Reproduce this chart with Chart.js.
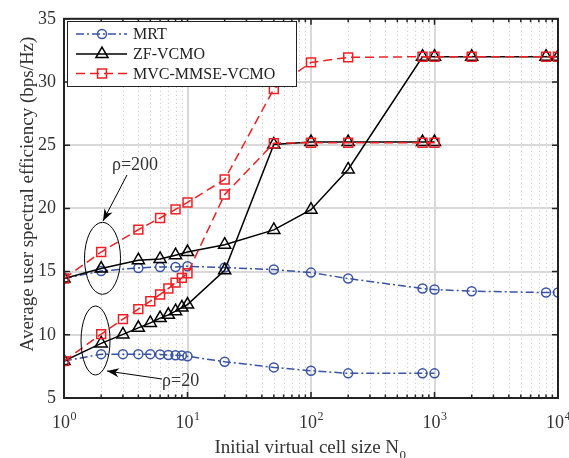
<!DOCTYPE html>
<html>
<head>
<meta charset="utf-8">
<script src="https://cdn.jsdelivr.net/npm/chart.js@4"></script>
<style>
  html, body { margin: 0; padding: 0; background: #fff; }
</style>
</head>
<body>
<canvas id="myChart" width="569" height="458"></canvas>
<script>
// initial virtual cell sizes N0 for each group
const nRho200 = [1, 2, 4, 6, 8, 10, 20, 50, 100, 200, 800, 1000, 2000, 8000, 10000];
const nRho20 = [1, 2, 3, 4, 5, 6, 7, 8, 9, 10, 20, 50, 100, 200, 800, 1000];

const mrt200 = [14.45, 15.05, 15.29, 15.37, 15.37, 15.42, 15.32, 15.16, 14.92, 14.45, 13.66, 13.58, 13.45, 13.34, 13.34];
const mrt20 = [7.92, 8.47, 8.47, 8.47, 8.47, 8.45, 8.4, 8.38, 8.36, 8.3, 7.87, 7.42, 7.16, 6.95, 6.95, 6.95];
const zf200 = [14.45, 15.24, 15.9, 16.0, 16.3, 16.55, 17.13, 18.3, 19.9, 23.08, 32, 32, 32, 32, 32];
const zf20 = [7.92, 9.32, 10.03, 10.55, 10.94, 11.32, 11.58, 11.87, 12.16, 12.39, 15.1, 25.05, 25.25, 25.25, 25.25, 25.25];
const mvc200 = [14.45, 16.55, 18.32, 19.24, 19.92, 20.47, 22.29, 29.45, 31.55, 31.95, 32, 32, 32, 32, 32];
const mvc20 = [7.92, 10.05, 11.24, 12.03, 12.66, 13.19, 13.66, 14.13, 14.5, 14.87, 21.1, 25.16, 25.2, 25.2, 25.2, 25.2];

const xDecades = [1, 10, 100, 1000, 10000];
const yTicks = [5, 10, 15, 20, 25, 30, 35];

const FONT = '"Liberation Serif", "Times New Roman", serif';
const BLUE = '#3953a6';
const RED = '#ee2024';
const BLACK = '#000000';

const toXY = (xs, ys) => xs.map((x, i) => ({ x: x, y: ys[i] }));

const styles = {
  mrt: { color: BLUE, dash: [8, 3, 2, 3], pointStyle: 'circle', radius: 4.5 },
  zf: { color: BLACK, dash: [], pointStyle: 'triangle', radius: 7 },
  mvc: { color: RED, dash: [9, 5], pointStyle: 'rect', radius: 6.3 }
};

function makeSet(label, xs, ys, st) {
  return {
    label: label,
    data: toXY(xs, ys),
    borderColor: st.color,
    borderWidth: 1.5,
    borderDash: st.dash,
    pointStyle: st.pointStyle,
    pointRadius: st.radius,
    pointBorderColor: st.color,
    pointBackgroundColor: 'rgba(0,0,0,0)',
    pointBorderWidth: 1.5,
    fill: false,
    tension: 0
  };
}

// draw order: red below black below blue like the figure
const datasets = [
  makeSet('MVC-MMSE-VCMO', nRho200, mvc200, styles.mvc),
  makeSet('MVC-MMSE-VCMO', nRho20, mvc20, styles.mvc),
  makeSet('ZF-VCMO', nRho200, zf200, styles.zf),
  makeSet('ZF-VCMO', nRho20, zf20, styles.zf),
  makeSet('MRT', nRho200, mrt200, styles.mrt),
  makeSet('MRT', nRho20, mrt20, styles.mrt)
];

const legendItems = [
  { text: 'MRT', st: styles.mrt },
  { text: 'ZF-VCMO', st: styles.zf },
  { text: 'MVC-MMSE-VCMO', st: styles.mvc }
];

function marker(ctx, st, cx, cy) {
  const r = st.radius;
  ctx.beginPath();
  if (st.pointStyle === 'circle') {
    ctx.arc(cx, cy, r, 0, Math.PI * 2);
  } else if (st.pointStyle === 'triangle') {
    ctx.moveTo(cx, cy - r);
    ctx.lineTo(cx + r * Math.sin(Math.PI / 3), cy + r * 0.5);
    ctx.lineTo(cx - r * Math.sin(Math.PI / 3), cy + r * 0.5);
    ctx.closePath();
  } else {
    const s = r * Math.SQRT1_2;
    ctx.rect(cx - s, cy - s, 2 * s, 2 * s);
  }
  ctx.stroke();
}

const gridPlugin = {
  id: 'matlabGrid',
  beforeDatasetsDraw(chart) {
    const { ctx, chartArea: a, scales: { x, y } } = chart;
    ctx.save();
    // minor x grid (dotted)
    ctx.strokeStyle = '#c4c4c4';
    ctx.lineWidth = 1;
    ctx.setLineDash([1, 3]);
    for (let d = 1; d < 10000; d *= 10) {
      for (let m = 2; m <= 9; m++) {
        const px = Math.round(x.getPixelForValue(d * m)) + 0.5;
        ctx.beginPath(); ctx.moveTo(px, a.top); ctx.lineTo(px, a.bottom); ctx.stroke();
      }
    }
    // major grid (solid)
    ctx.setLineDash([]);
    ctx.strokeStyle = '#d9d9d9';
    ctx.lineWidth = 2;
    xDecades.forEach(v => {
      const px = Math.round(x.getPixelForValue(v));
      ctx.beginPath(); ctx.moveTo(px, a.top); ctx.lineTo(px, a.bottom); ctx.stroke();
    });
    yTicks.forEach(v => {
      const py = Math.round(y.getPixelForValue(v));
      ctx.beginPath(); ctx.moveTo(a.left, py); ctx.lineTo(a.right, py); ctx.stroke();
    });
    ctx.restore();
  },
  afterDatasetsDraw(chart) {
    const { ctx, chartArea: a, scales: { x, y } } = chart;
    ctx.save();

    // tick marks inside the box
    ctx.strokeStyle = '#222';
    ctx.lineWidth = 1.5;
    for (let d = 1; d <= 10000; d *= 10) {
      for (let m = 1; m <= 9; m++) {
        const v = d * m;
        if (v > 10000) break;
        const len = m === 1 ? 6 : 3.5;
        const px = x.getPixelForValue(v);
        ctx.beginPath();
        ctx.moveTo(px, a.bottom); ctx.lineTo(px, a.bottom - len);
        ctx.moveTo(px, a.top); ctx.lineTo(px, a.top + len);
        ctx.stroke();
      }
    }
    yTicks.forEach(v => {
      const py = y.getPixelForValue(v);
      ctx.beginPath();
      ctx.moveTo(a.left, py); ctx.lineTo(a.left + 6, py);
      ctx.moveTo(a.right, py); ctx.lineTo(a.right - 6, py);
      ctx.stroke();
    });

    // box
    ctx.lineWidth = 2;
    ctx.strokeStyle = '#222';
    ctx.strokeRect(a.left, a.top, a.right - a.left, a.bottom - a.top);

    // x tick labels 10^n
    ctx.fillStyle = '#333';
    ctx.textBaseline = 'alphabetic';
    ctx.textAlign = 'left';
    xDecades.forEach((v, i) => {
      const px = x.getPixelForValue(v);
      ctx.font = '18px ' + FONT;
      const w1 = ctx.measureText('10').width;
      ctx.font = '12px ' + FONT;
      const w2 = ctx.measureText(String(i)).width;
      const left = px - (w1 + w2) / 2;
      ctx.font = '18px ' + FONT;
      ctx.fillText('10', left, 428);
      ctx.font = '12px ' + FONT;
      ctx.fillText(String(i), left + w1 + 0.5, 420);
    });

    // x title with subscript
    ctx.font = '19px ' + FONT;
    const t1 = 'Initial virtual cell size N';
    const tw = ctx.measureText(t1).width;
    ctx.font = '13px ' + FONT;
    const sw = ctx.measureText('0').width;
    const tl = 310 - (tw + sw) / 2;
    ctx.font = '19px ' + FONT;
    ctx.fillText(t1, tl, 453);
    ctx.font = '13px ' + FONT;
    ctx.fillText('0', tl + tw + 0.5, 459);

    // y title
    ctx.save();
    ctx.translate(28, 194);
    ctx.rotate(-Math.PI / 2);
    ctx.font = '19px ' + FONT;
    ctx.textAlign = 'center';
    ctx.textBaseline = 'middle';
    ctx.fillText('Average user spectral efficiency (bps/Hz)', 0, 0);
    ctx.restore();

    // legend
    const lx = 67, ly = 21, lw = 229, lh = 65;
    ctx.fillStyle = '#fff';
    ctx.fillRect(lx, ly, lw, lh);
    ctx.lineWidth = 1;
    ctx.strokeStyle = '#222';
    ctx.strokeRect(lx + 0.5, ly + 0.5, lw, lh);
    const rows = [34, 54, 73.5];
    legendItems.forEach((it, i) => {
      const yy = rows[i];
      ctx.save();
      ctx.strokeStyle = it.st.color;
      ctx.lineWidth = 1.5;
      ctx.setLineDash(it.st.dash);
      ctx.beginPath(); ctx.moveTo(76, yy); ctx.lineTo(127, yy); ctx.stroke();
      ctx.setLineDash([]);
      marker(ctx, it.st, 102, yy);
      ctx.restore();
      ctx.fillStyle = '#222';
      ctx.font = '16px ' + FONT;
      ctx.textAlign = 'left';
      ctx.textBaseline = 'middle';
      ctx.fillText(it.text, 133, yy + 1);
    });

    // annotations: ellipses, arrows, rho labels
    ctx.strokeStyle = '#000';
    ctx.fillStyle = '#000';
    ctx.lineWidth = 1;
    const e1x = x.getPixelForValue(2.05), e1y = y.getPixelForValue(16.05);
    const e2x = x.getPixelForValue(1.8), e2y = y.getPixelForValue(9.55);
    ctx.beginPath(); ctx.ellipse(e1x, e1y, 18, 36, 0, 0, Math.PI * 2); ctx.stroke();
    ctx.beginPath(); ctx.ellipse(e2x, e2y, 14.5, 34.5, 0, 0, Math.PI * 2); ctx.stroke();

    function arrow(x0, y0, x1, y1) {
      const ang = Math.atan2(y1 - y0, x1 - x0);
      const hl = 12, hw = 4.5;
      ctx.beginPath(); ctx.moveTo(x0, y0); ctx.lineTo(x1, y1); ctx.stroke();
      const bx = x1 - hl * Math.cos(ang), by = y1 - hl * Math.sin(ang);
      ctx.beginPath();
      ctx.moveTo(x1, y1);
      ctx.lineTo(bx + hw * Math.sin(ang), by - hw * Math.cos(ang));
      ctx.lineTo(x1 - hl * 0.7 * Math.cos(ang), y1 - hl * 0.7 * Math.sin(ang));
      ctx.lineTo(bx - hw * Math.sin(ang), by + hw * Math.cos(ang));
      ctx.closePath();
      ctx.fill();
    }
    arrow(127, 175, 103, 221);
    arrow(162, 379, 107, 371);

    ctx.fillStyle = '#333';
    ctx.font = '18px ' + FONT;
    ctx.textBaseline = 'alphabetic';
    ctx.textAlign = 'center';
    ctx.fillText('\u03c1=200', 135, 170);
    ctx.textAlign = 'left';
    ctx.fillText('\u03c1=20', 162, 386);

    ctx.restore();
  }
};

new Chart(document.getElementById('myChart'), {
  type: 'line',
  data: { datasets: datasets },
  plugins: [gridPlugin],
  options: {
    responsive: false,
    animation: false,
    devicePixelRatio: 1,
    layout: { padding: { top: 18, right: 11, left: 0, bottom: 0 } },
    plugins: {
      legend: { display: false },
      tooltip: { enabled: false }
    },
    scales: {
      x: {
        type: 'logarithmic',
        min: 1,
        max: 10000,
        grid: { display: false },
        border: { display: false },
        ticks: { display: false },
        afterFit: s => { s.height = 60; }
      },
      y: {
        type: 'linear',
        min: 5,
        max: 35,
        grid: { display: false, drawTicks: false },
        border: { display: false },
        afterBuildTicks: s => { s.ticks = yTicks.map(v => ({ value: v })); },
        ticks: {
          color: '#333',
          padding: 8,
          font: { family: FONT, size: 18 }
        },
        afterFit: s => { s.width = 64; }
      }
    }
  }
});
</script>
</body>
</html>
